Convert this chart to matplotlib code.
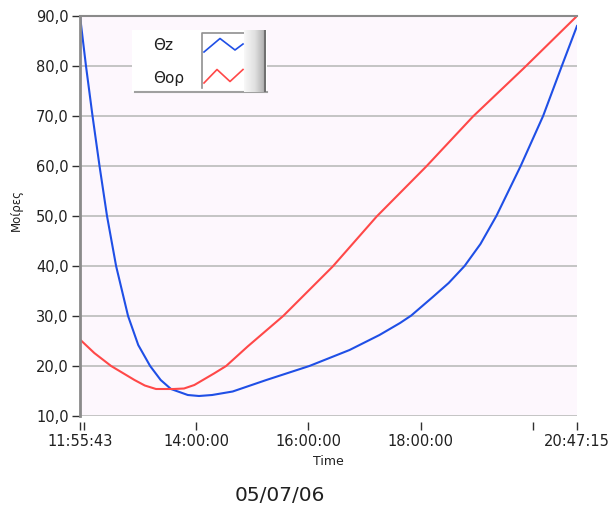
import datetime

import matplotlib
matplotlib.use("Agg")
import matplotlib.dates as mdates
import matplotlib.pyplot as plt
import numpy as np
from matplotlib.colors import LinearSegmentedColormap
from matplotlib.lines import Line2D
from matplotlib.patches import Rectangle
from matplotlib.transforms import Affine2D

# --- data (date 05/07/06) ---
day = "2006-07-05"

theta_z_times = ["11:55:43", "12:02:07", "12:09:07", "12:16:36", "12:24:36", "12:34:19",
                 "12:47:07", "12:58", "13:10:43", "13:22", "13:33", "13:51", "14:03",
                 "14:17", "14:39", "15:15", "16:01", "16:44", "17:16", "17:38",
                 "17:50", "18:13", "18:30", "18:47", "19:04", "19:21", "19:47",
                 "20:11", "20:31", "20:47:15"]
theta_z = [90.0, 80.0, 70.0, 60.0, 50.0, 40.0,
           30.0, 24.2, 20.0, 17.2, 15.4, 14.2, 14.0,
           14.2, 14.9, 17.2, 20.0, 23.2, 26.2, 28.6,
           30.1, 33.8, 36.6, 40.0, 44.4, 50.0, 60.0,
           70.0, 80.0, 88.0]

theta_or_times = ["11:55:43", "12:11", "12:29", "12:54", "13:05", "13:17", "13:36",
                  "13:47", "13:58", "14:19", "14:32", "14:55", "15:33", "16:26",
                  "17:13", "18:06", "18:56", "19:50", "20:47:15"]
theta_or = [25.3, 22.6, 20.0, 17.2, 16.1, 15.4, 15.4,
            15.5, 16.2, 18.5, 20.0, 23.9, 30.0, 39.9,
            49.9, 59.9, 69.9, 79.5, 90.0]

series_names = ["Θz", "Θορ"]
series_colors = ["#1f4fe6", "#ff4848"]

x_start, x_end = "11:55:43", "20:47:15"
major_ticks = ["11:55:43", "14:00:00", "16:00:00", "18:00:00", "20:47:15"]
minor_ticks = ["12:00:00", "20:00:00"]
y_ticks = [10, 20, 30, 40, 50, 60, 70, 80, 90]


def to_dt(s):
    if s.count(":") == 1:
        s = s + ":00"
    return datetime.datetime.strptime(day + " " + s, "%Y-%m-%d %H:%M:%S")


W, H = 611, 511
fig = plt.figure(figsize=(W / 100, H / 100), dpi=100)
fig.patch.set_facecolor("white")

# pixel coords (origin top-left) -> figure
pix = Affine2D().scale(1 / W, -1 / H).translate(0, 1) + fig.transFigure

ax = fig.add_axes([80 / W, 1 - 416 / H, (577 - 80) / W, (416 - 16) / H])
ax.set_facecolor("#fdf7fd")

ax.plot([to_dt(t) for t in theta_z_times], theta_z, color=series_colors[0], lw=1.5)
ax.plot([to_dt(t) for t in theta_or_times], theta_or, color=series_colors[1], lw=1.5)

ax.set_xlim(to_dt(x_start), to_dt(x_end))
ax.set_ylim(10, 90)

ax.set_yticks(y_ticks)
ax.set_yticklabels([("%.1f" % v).replace(".", ",") for v in y_ticks])
ax.yaxis.grid(True, color="#c4c4c4", lw=1.4)
ax.set_axisbelow(True)

ax.set_xticks([to_dt(t) for t in major_ticks])
ax.set_xticks([to_dt(t) for t in minor_ticks], minor=True)
ax.xaxis.set_major_formatter(mdates.DateFormatter("%H:%M:%S"))

for sp in ("right", "bottom"):
    ax.spines[sp].set_color("none")
ax.spines["bottom"].set_position(("outward", 4))
ax.spines["left"].set_color("#8a8a8a")
ax.spines["left"].set_linewidth(2)
ax.spines["top"].set_color("#8a8a8a")
ax.spines["top"].set_linewidth(1.5)

ax.tick_params(axis="y", length=6, width=1, color="#303030", pad=2,
               labelsize=10.5, labelcolor="#202020")
ax.tick_params(axis="x", which="both", length=6, width=1, color="#303030",
               pad=3, labelsize=10.5, labelcolor="#202020")

ax.set_xlabel("Time", fontsize=9, color="#202020", labelpad=4)
fig.text(16 / W, 1 - 210 / H, "Μοίρες", rotation=90, fontsize=8.5,
         color="#202020", ha="center", va="center")
fig.text(280 / W, 1 - 495 / H, "05/07/06", fontsize=14.5, color="#202020",
         ha="center", va="center")

# --- legend box (LabVIEW style) ---
fig.add_artist(Rectangle((132, 30), 135, 62, transform=pix, facecolor="white",
                         edgecolor="none", zorder=5))
fig.add_artist(Line2D([135, 267], [92, 92], transform=pix, color="#a0a0a0",
                      lw=1.5, zorder=6))
fig.add_artist(Line2D([202, 202, 244], [88, 33, 33], transform=pix,
                      color="#909090", lw=1.2, zorder=6))

grad_ax = fig.add_axes([244 / W, 1 - 92 / H, 22 / W, 62 / H], zorder=6)
grad = np.linspace(0, 1, 60).reshape(1, -1)
cmap = LinearSegmentedColormap.from_list("bevel", ["#f8f8f8", "#e0e0e0", "#a8a8a8"])
grad_ax.imshow(grad, aspect="auto", cmap=cmap, extent=[0, 1, 0, 1])
grad_ax.axvline(0.96, color="#707070", lw=1.5)
grad_ax.set_axis_off()

fig.text(153 / W, 1 - 46 / H, series_names[0], fontsize=11, color="#202020",
         va="center", ha="left", zorder=7)
fig.text(153 / W, 1 - 78 / H, series_names[1], fontsize=11, color="#202020",
         va="center", ha="left", zorder=7)
fig.add_artist(Line2D([204, 220, 235, 243], [52, 38.5, 50, 44], transform=pix,
                      color=series_colors[0], lw=1.2, zorder=7))
fig.add_artist(Line2D([204, 217, 230, 243], [83, 69.5, 81.5, 69.5], transform=pix,
                      color=series_colors[1], lw=1.2, zorder=7))

fig.savefig("out.png", dpi=100)
